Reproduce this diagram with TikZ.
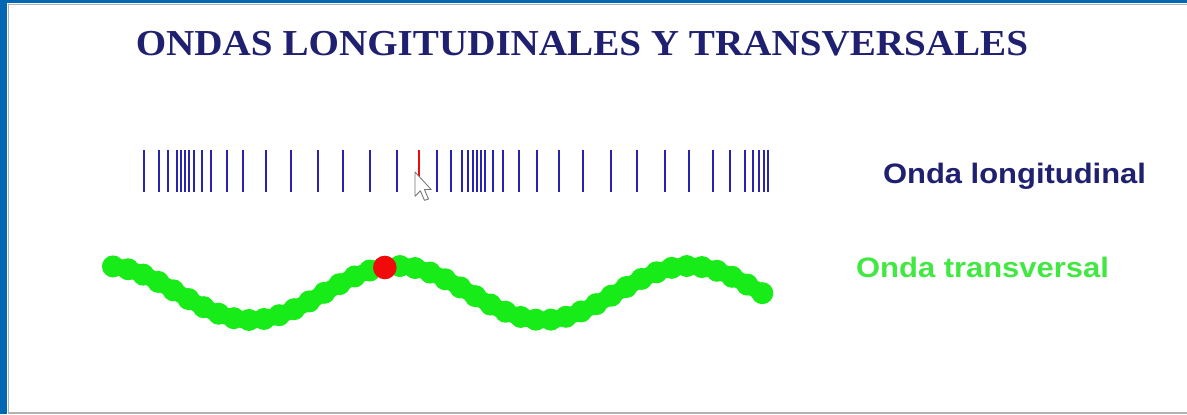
\documentclass[tikz,border=0pt]{standalone}
\usepackage{fontspec}
\setmainfont{Liberation Serif}
\setsansfont{Liberation Sans}
\usepackage{tikz}

\definecolor{frameblue}{RGB}{0,104,178}
\definecolor{titlenavy}{RGB}{32,32,112}
\definecolor{barblue}{RGB}{40,36,176}
\definecolor{beadgreen}{RGB}{24,236,24}
\definecolor{labelgreen}{RGB}{66,232,66}
\definecolor{beadred}{RGB}{240,10,10}

\begin{document}
\begin{tikzpicture}[
  x=0.025cm,
  y=-0.025cm,
  every node/.style={inner sep=0pt},
  bar/.style={draw=barblue,line width=1.8pt},
  markbar/.style={draw=beadred,line width=1.8pt},
  bead/.style={fill=beadgreen},
  string/.style={draw=beadgreen,line width=0.42cm},
  redbead/.style={fill=beadred},
  pointer/.style={fill=white,draw=black!55,line width=0.6pt,line join=round},
  label/.style={font=\sffamily\bfseries\fontsize{20}{24}\selectfont,anchor=base}
]
\useasboundingbox (0,0) rectangle (1187,414);

% Frame
\fill[white] (0,0) rectangle (1187,414);
\fill[frameblue] (0,0) rectangle (7,414);
\fill[frameblue] (0,0) rectangle (1187,3);
\draw[black!30,line width=0.6pt] (8,414) -- (8,4) -- (1187,4);
\draw[black!30,line width=1pt] (8,413) -- (1187,413);

% Title
\node[font=\rmfamily\bfseries\fontsize{26}{30}\selectfont,text=titlenavy,anchor=base]
  (title) at (582,55) {\scalebox{1.07}[1]{ONDAS LONGITUDINALES Y TRANSVERSALES}};

% Longitudinal wave: compressed bars
\foreach \xb in {144,159,168,177,181,185,189,194,202,211,227,243,266,291,318,343,370,397,
                 437,451,462,468,473,477,481,485,493,503,519,537,559,583,611,637,665,689,
                 713,730,745,753,759,764,768}
  \draw[bar] (\xb,150) -- (\xb,192);
\draw[markbar] (419,150) -- (419,192);

% Transverse wave: chain of beads
\draw[string] plot[domain=113:762.3,samples=60,smooth] (\x,{293-27*cos(1.2329*(\x-105))});
\foreach \i in {0,...,43} {
  \pgfmathsetmacro\xd{113+15.1*\i}
  \pgfmathsetmacro\yd{293-27*cos(1.2329*(\xd-105))}
  \fill[bead] (\xd,\yd) circle[radius=0.275cm];
}
\fill[redbead] (384.8,267.5) circle[radius=0.295cm];

% Mouse pointer
\begin{scope}[shift={(415,172)},scale=1.35]
  \draw[pointer] (0,0) -- (0,18) -- (4,14) -- (7,21) -- (10,20) -- (7,13) -- (12,13) -- cycle;
\end{scope}

% Labels
\node[label,text=titlenavy] (lbl-long) at (1014.5,183) {\scalebox{1.1}[1]{Onda longitudinal}};
\node[label,text=labelgreen] (lbl-trans) at (982.5,277) {\scalebox{1.1}[1]{Onda transversal}};
\end{tikzpicture}
\end{document}
